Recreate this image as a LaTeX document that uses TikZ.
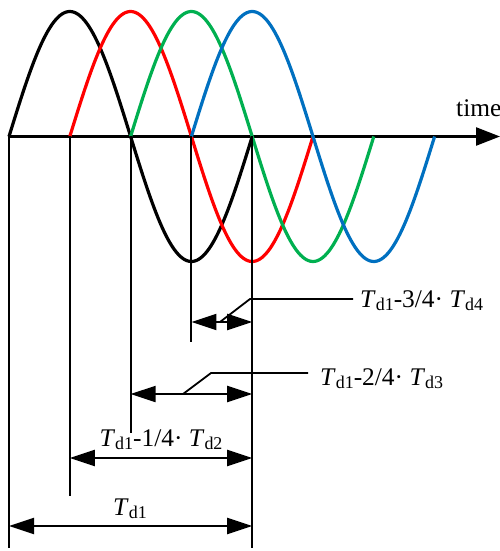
\documentclass[tikz,border=0pt]{standalone}
\usepackage{fontspec}
\setmainfont{Liberation Serif}
\usetikzlibrary{arrows.meta}
\definecolor{wred}{RGB}{255,0,0}
\definecolor{wgreen}{RGB}{0,176,80}
\definecolor{wblue}{RGB}{0,112,192}
\newcommand{\Tsub}[1]{\textit{T}\raisebox{-0.15em}{\fontsize{18}{18}\selectfont d#1}}
\begin{document}
\begin{tikzpicture}[x=1bp,y=-1bp,
  wave/.style={line width=3.2bp},
  guide/.style={line width=2bp},
  axisline/.style={line width=2.4bp,-{Triangle[length=24bp,width=18bp]}},
  dimline/.style={line width=2bp,{Triangle[length=25bp,width=16bp]}-{Triangle[length=25bp,width=16bp]}},
  leader/.style={line width=1.8bp},
  lbl/.style={font=\fontsize{25.5}{27}\selectfont, inner sep=0pt}]
\useasboundingbox (0,0) rectangle (500,551);
% axis
\coordinate (o) at (9,136.5);
\coordinate (axend) at (500,136.5);
\draw[axisline] (o) -- (axend);
\node[lbl, anchor=base west] (time) at (456,117) {time};
% waves
\draw[wave, black] plot[domain=0:360, samples=120] ({9+\x/360*243.2}, {136.5-125*sin(\x)});
\draw[wave, wred] plot[domain=0:360, samples=120] ({69.8+\x/360*243.2}, {136.5-125*sin(\x)});
\draw[wave, wgreen] plot[domain=0:360, samples=120] ({130.6+\x/360*243.2}, {136.5-125*sin(\x)});
\draw[wave, wblue] plot[domain=0:360, samples=120] ({191.4+\x/360*243.2}, {136.5-125*sin(\x)});
% guide lines
\coordinate (g0t) at (9,136.5);     \coordinate (g0b) at (9,548);
\coordinate (g1t) at (69.8,136.5);  \coordinate (g1b) at (69.8,496);
\coordinate (g2t) at (130.6,136.5); \coordinate (g2b) at (130.6,433);
\coordinate (g3t) at (191.4,136.5); \coordinate (g3b) at (191.4,342);
\coordinate (g4t) at (252.2,136.5); \coordinate (g4b) at (252.2,548);
\foreach \i in {0,...,4} \draw[guide] (g\i t) -- (g\i b);
% dimension lines
\coordinate (d1a) at (9,526);     \coordinate (d1b) at (252.2,526);
\coordinate (d2a) at (69.8,458);  \coordinate (d2b) at (252.2,458);
\coordinate (d3a) at (130.6,394); \coordinate (d3b) at (252.2,394);
\coordinate (d4a) at (191.4,322); \coordinate (d4b) at (252.2,322);
\draw[dimline] (d1a) -- (d1b);
\draw[dimline] (d2a) -- (d2b);
\draw[dimline] (d3a) -- (d3b);
\draw[dimline] (d4a) -- (d4b);
% labels
\node[lbl, anchor=base] (l1) at (130,515) {\Tsub{1}};
\node[lbl, anchor=base] (l2) at (161,446) {\Tsub{1}-1/4·\ \Tsub{2}};
\node[lbl, anchor=base west] (l3) at (320,385) {\Tsub{1}-2/4·\ \Tsub{3}};
\node[lbl, anchor=base west] (l4) at (360,307) {\Tsub{1}-3/4·\ \Tsub{4}};
% leaders
\coordinate (k3a) at (183,394); \coordinate (k3b) at (211,373); \coordinate (k3c) at (308,373);
\coordinate (k4a) at (220,322); \coordinate (k4b) at (250,299); \coordinate (k4c) at (353,299);
\draw[leader] (k3a) -- (k3b) -- (k3c);
\draw[leader] (k4a) -- (k4b) -- (k4c);
\end{tikzpicture}
\end{document}
